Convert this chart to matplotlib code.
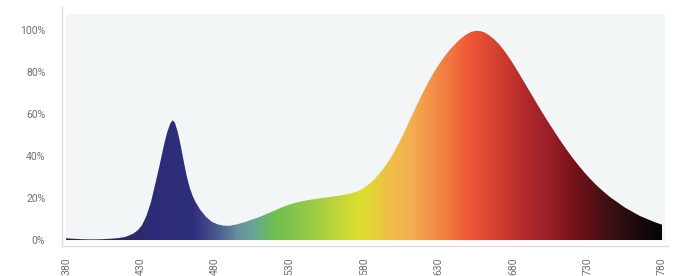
import numpy as np
import matplotlib
matplotlib.use("Agg")
import matplotlib.pyplot as plt
from matplotlib.colors import LinearSegmentedColormap, Normalize
from matplotlib.patches import Polygon, Rectangle

# spectrum (wavelength nm, relative power %)
wavelengths = [380, 385, 390, 395, 400, 405, 410, 415, 420, 425, 428, 431, 434,
               437, 440, 442, 444, 446, 448, 450, 451.5, 453, 455, 457, 459,
               461, 463, 465, 467, 470, 474, 478, 482, 486, 490, 495, 500, 505,
               510, 515, 520, 525, 530, 535, 540, 545, 550, 555, 560, 565, 570,
               575, 578, 581, 584, 587, 590, 593, 596, 599, 602, 605, 608, 611,
               614, 617, 620, 623, 626, 629, 632, 635, 638, 640, 643, 646, 649,
               652, 655, 658, 661, 664, 667, 670, 673, 676, 679, 682, 685, 688,
               691, 694, 697, 700, 704, 708, 712, 716, 720, 724, 728, 732, 736,
               740, 745, 750, 755, 760, 765, 770, 775, 780]
power = [0.8, 0.6, 0.4, 0.3, 0.3, 0.4, 0.6, 0.9, 1.5, 3.0, 4.5, 7, 11.5,
         18, 27, 33, 39.5, 46, 51.5, 55.5, 57, 56, 51.5, 45, 37.5,
         30.5, 25, 21, 18, 14.5, 11, 8.6, 7.4, 6.8, 6.8, 7.5, 8.5, 9.8,
         11, 12.5, 14, 15.6, 16.9, 17.9, 18.7, 19.3, 19.8, 20.3, 20.8, 21.3, 22,
         23, 24, 25.3, 27, 29, 31.3, 34, 37, 40.4, 44.2, 48.3, 52.8, 57.4,
         62, 66.5, 70.8, 74.9, 78.7, 82.2, 85.4, 88.3, 90.9, 92.4, 94.6, 96.5, 98,
         99.1, 99.6, 99.5, 98.8, 97.5, 95.8, 93.7, 91.2, 88.3, 85.1, 81.7, 78.2, 74.6,
         71, 67.4, 63.8, 60.3, 55.8, 51.4, 47.1, 43, 39.1, 35.5, 32.1, 29, 26.1,
         23.5, 20.5, 18, 15.5, 13.5, 11.5, 10, 8.5, 7.3]

x_ticks = [380, 430, 480, 530, 580, 630, 680, 730, 780]
y_ticks = [0, 20, 40, 60, 80, 100]

# colour of the fill along the wavelength axis
grad_nm = [380, 420, 440, 465, 480, 495, 505, 520, 540, 560, 578, 595, 612,
           635, 652, 670, 690, 705, 725, 745, 765, 780]
grad_col = ["#26243e", "#2c2a66", "#2e2c78", "#2f2e7c", "#48568e", "#6690a0",
            "#6aa598", "#6fbf4f", "#90c84a", "#bcd43c", "#dde02e", "#eec244",
            "#f4ae52", "#f27d42", "#ef5536", "#d2402f", "#b0282c", "#9a1e28",
            "#6e1018", "#3e1014", "#1a0a0c", "#050505"]

W, H = 673, 276
fig = plt.figure(figsize=(W / 100, H / 100), dpi=100)
left, right, top, bottom = 62, 668, 7, 246
ax = fig.add_axes([left / W, 1 - bottom / H, (right - left) / W, (bottom - top) / H])

# pixel -> data mapping
px_nm = (662 - 66) / 400
px_pc = (240 - 30) / 100
ax.set_xlim(380 - (66 - left) / px_nm, 780 + (right - 662) / px_nm)
ax.set_ylim(-(bottom - 240) / px_pc, 100 + (30 - top) / px_pc)
ax.set_facecolor("white")

ax.add_patch(Rectangle((380, -0.5), 402, 108, facecolor="#f3f6f7",
                       edgecolor="none", zorder=0))

pos = [(n - 380) / 400 for n in grad_nm]
cmap = LinearSegmentedColormap.from_list("spec", list(zip(pos, grad_col)))
grad = np.linspace(380, 780, 1200).reshape(1, -1)
im = ax.imshow(grad, extent=[380, 780, 0, 100], aspect="auto", cmap=cmap,
               norm=Normalize(380, 780), interpolation="bilinear", zorder=1)
verts = list(zip(wavelengths, power)) + [(780, 0), (380, 0)]
shape = Polygon(verts, closed=True, facecolor="none", edgecolor="none")
ax.add_patch(shape)
im.set_clip_path(shape)

for s in ["top", "right"]:
    ax.spines[s].set_visible(False)
for s in ["left", "bottom"]:
    ax.spines[s].set_color("#dcdcdc")
    ax.spines[s].set_linewidth(1)

ax.set_xticks(x_ticks)
ax.set_xticklabels([str(t) for t in x_ticks], rotation=90)
ax.set_yticks(y_ticks)
ax.set_yticklabels([f"{t}%" for t in y_ticks])
ax.tick_params(length=0, labelsize=7.5, labelcolor="#707070")
ax.tick_params(axis="y", pad=12)
ax.tick_params(axis="x", pad=8)
for lab in ax.get_xticklabels() + ax.get_yticklabels():
    lab.set_family("Roboto")

fig.savefig("out.png", dpi=100)
